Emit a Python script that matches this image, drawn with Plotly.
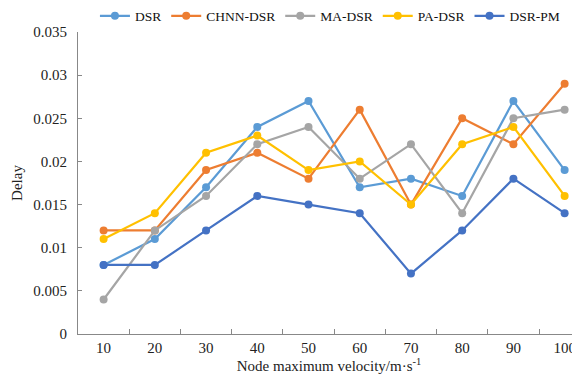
import plotly.graph_objects as go

categories = ["10", "20", "30", "40", "50", "60", "70", "80", "90", "100"]
dsr = [0.008, 0.011, 0.017, 0.024, 0.027, 0.017, 0.018, 0.016, 0.027, 0.019]
chnn_dsr = [0.012, 0.012, 0.019, 0.021, 0.018, 0.026, 0.015, 0.025, 0.022, 0.029]
ma_dsr = [0.004, 0.012, 0.016, 0.022, 0.024, 0.018, 0.022, 0.014, 0.025, 0.026]
pa_dsr = [0.011, 0.014, 0.021, 0.023, 0.019, 0.020, 0.015, 0.022, 0.024, 0.016]
dsr_pm = [0.008, 0.008, 0.012, 0.016, 0.015, 0.014, 0.007, 0.012, 0.018, 0.014]
y_ticks = [0, 0.005, 0.01, 0.015, 0.02, 0.025, 0.03, 0.035]
y_tick_labels = ["0", "0.005", "0.01", "0.015", "0.02", "0.025", "0.03", "0.035"]

series = [
    ("DSR", dsr, "#5B9BD5"),
    ("CHNN-DSR", chnn_dsr, "#ED7D31"),
    ("MA-DSR", ma_dsr, "#A5A5A5"),
    ("PA-DSR", pa_dsr, "#FFC000"),
    ("DSR-PM", dsr_pm, "#4472C4"),
]

fig = go.Figure()
xs = list(range(len(categories)))
for name, vals, color in series:
    fig.add_trace(go.Scatter(
        x=xs, y=vals, name=name, mode="lines+markers",
        line=dict(color=color, width=2.2),
        marker=dict(color=color, size=8),
    ))

font = "Liberation Serif, Times New Roman, serif"
fig.update_layout(
    width=572, height=367,
    margin=dict(l=70, r=0, t=24, b=41, autoexpand=False),
    paper_bgcolor="white", plot_bgcolor="white",
    font=dict(family=font, size=15, color="#222"),
    showlegend=True,
    legend=dict(orientation="h", xref="container", yref="container",
                x=0.152, y=0.978, xanchor="left", yanchor="middle",
                font=dict(family=font, size=13.5, color="#111"),
                itemwidth=30, tracegroupgap=0, bgcolor="rgba(0,0,0,0)"),
    xaxis=dict(
        range=[-0.5, 9.3], tickmode="array", tickvals=xs, ticktext=categories,
        showline=True, linecolor="#888", linewidth=1.2,
        ticks="", showgrid=False, zeroline=False, automargin=False,
        tickfont=dict(size=15),
        title=dict(text="Node maximum velocity/m·s<sup>-1</sup>", font=dict(size=15), standoff=0),
    ),
    yaxis=dict(
        range=[0, 0.035], tickmode="array", tickvals=y_ticks, ticktext=y_tick_labels,
        showline=True, linecolor="#888", linewidth=1.2,
        ticks="inside", ticklen=4, tickcolor="#888",
        showgrid=False, zeroline=False, automargin=False,
        tickfont=dict(size=15), ticklabelstandoff=7,
        title=dict(text="Delay", font=dict(size=15), standoff=6),
    ),
)

# inside category-boundary ticks on x axis via minor ticks
fig.update_xaxes(minor=dict(tickvals=[i + 0.5 for i in range(9)], ticks="inside",
                            ticklen=5, tickcolor="#888", showgrid=False))

fig.write_html("out.html")
